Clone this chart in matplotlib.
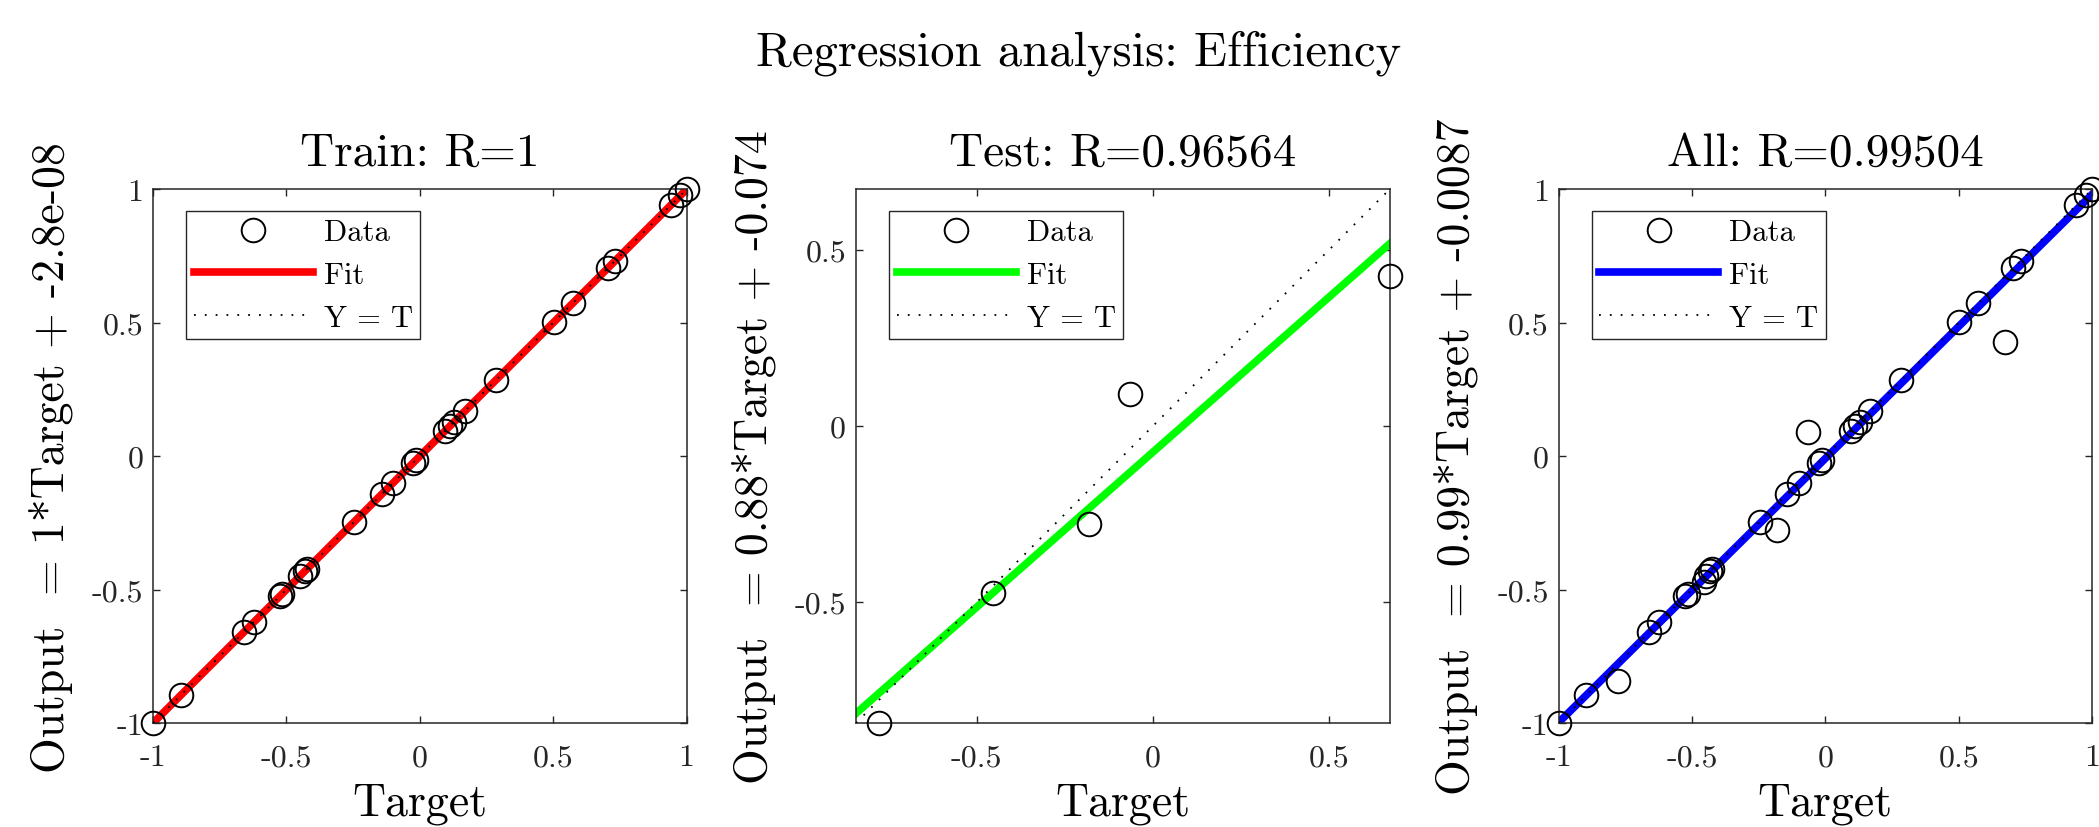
import numpy as np
import matplotlib
matplotlib.use("Agg")
import matplotlib.pyplot as plt
from matplotlib.ticker import FuncFormatter

# data (Target, Output)
train_target = [-1.0, -0.896, -0.66, -0.623, -0.524, -0.516, -0.449, -0.431, -0.424,
                -0.246, -0.142, -0.100, -0.025, -0.013, 0.095, 0.112, 0.129, 0.168,
                0.285, 0.503, 0.573, 0.704, 0.733, 0.941, 0.977, 1.0]
train_output = [-1.0, -0.896, -0.66, -0.623, -0.524, -0.516, -0.449, -0.431, -0.424,
                -0.246, -0.142, -0.100, -0.025, -0.013, 0.095, 0.112, 0.129, 0.168,
                0.285, 0.503, 0.573, 0.704, 0.733, 0.941, 0.977, 1.0]
test_target = [-0.778, -0.453, -0.181, -0.065, 0.673]
test_output = [-0.843, -0.473, -0.277, 0.091, 0.428]

titles = ["Train: R=1", "Test: R=0.96564", "All: R=0.99504"]
slopes = [1, 0.88, 0.99]
offsets = ["-2.8e-08", "-0.074", "-0.0087"]
fit_colors = ["#ff0000", "#00ff00", "#0000ff"]

plt.rcParams["font.family"] = "cmr10"
plt.rcParams["mathtext.fontset"] = "cm"
plt.rcParams["axes.unicode_minus"] = False

sets = [
    (train_target, train_output),
    (test_target, test_output),
    (train_target + test_target, train_output + test_output),
]

fig = plt.figure(figsize=(20.99, 8.28), dpi=100)
lefts = [0.0729, 0.4078, 0.7425]
w, h = 0.2542, 0.6445

for i in range(3):
    ax = fig.add_axes([lefts[i], 0.1256, w, h])
    t = np.array(sets[i][0])
    y = np.array(sets[i][1])
    lo = min(t.min(), y.min())
    hi = max(t.max(), y.max())
    xs = np.array([lo, hi])
    b = float(offsets[i])

    ax.plot(xs, slopes[i] * xs + b, color=fit_colors[i], lw=5.5, label="Fit", zorder=2)
    ax.plot(xs, xs, color="k", lw=1.3, ls=(0, (1, 5)), label="Y = T", zorder=3)
    ax.plot(t, y, "o", ms=17, mfc="none", mec="k", mew=1.4, label="Data",
            clip_on=False, zorder=4)

    ax.set_xlim(lo, hi)
    ax.set_ylim(lo, hi)
    ticks = [v for v in [-1, -0.5, 0, 0.5, 1] if lo - 1e-9 <= v <= hi + 1e-9]
    ax.set_xticks(ticks)
    ax.set_yticks(ticks)
    fmt = FuncFormatter(lambda v, p: "%g" % v)
    ax.xaxis.set_major_formatter(fmt)
    ax.yaxis.set_major_formatter(fmt)
    ax.tick_params(direction="in", top=True, right=True, length=5, width=1,
                   colors="#262626", labelsize=23)
    ax.tick_params(axis="x", pad=15)
    ax.tick_params(axis="y", pad=7)
    for s in ax.spines.values():
        s.set_color("#262626")
        s.set_linewidth(1.1)

    ax.set_title(titles[i], fontsize=34, pad=18)
    ax.set_xlabel("Target", fontsize=33)
    ax.set_ylabel("Output  = %g*Target + %s" % (slopes[i], offsets[i]), fontsize=33)
    ax.xaxis.set_label_coords(0.5, -0.112)
    ax.yaxis.set_label_coords(-0.15, 0.5)

    hd, lb = ax.get_legend_handles_labels()
    order = [2, 0, 1]
    leg = ax.legend([hd[k] for k in order], [lb[k] for k in order], loc="upper left",
                    bbox_to_anchor=(0.062, 0.959), borderaxespad=0, fontsize=22,
                    frameon=True, fancybox=False, framealpha=1, edgecolor="#262626",
                    handlelength=3.9, handletextpad=0.35, borderpad=0.25,
                    labelspacing=0.5, numpoints=1)
    leg.get_frame().set_linewidth(1.0)

fig.text(0.514, 0.936, "Regression analysis: Efficiency", fontsize=35,
         ha="center", va="center")

fig.savefig("out.png", dpi=100)
